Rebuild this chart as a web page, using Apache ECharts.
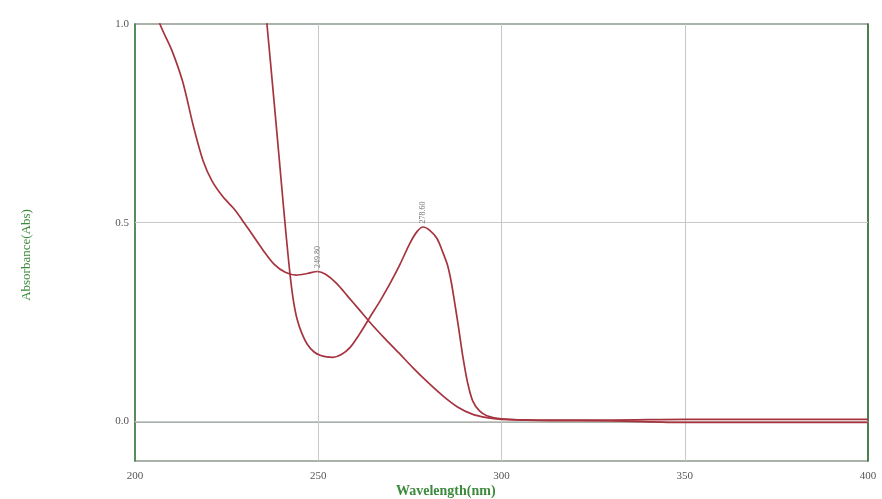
<!DOCTYPE html>
<html>
<head>
<meta charset="utf-8">
<script src="https://cdn.jsdelivr.net/npm/echarts@6/dist/echarts.min.js"></script>
<style>html,body{margin:0;padding:0;background:#fff}#c{width:882px;height:499px}</style>
</head>
<body>
<div id="c"></div>
<script>
// Data
var curveA = [[205,1.06],[206.8,1.0],[210,0.935],[213,0.855],[216,0.74],[218.6,0.655],[221,0.605],[224,0.565],[227,0.535],[229,0.51],[232,0.47],[235,0.43],[238,0.395],[241,0.375],[244,0.368],[247,0.372],[249.8,0.377],[252,0.37],[255,0.347],[258,0.315],[261,0.283],[264,0.25],[268,0.21],[272,0.172],[276,0.133],[280,0.097],[284,0.064],[288,0.036],[292,0.018],[296,0.009],[300,0.005],[310,0.003],[330,0.003],[350,0.005],[380,0.005],[400,0.005]];
var curveB = [[235.5,1.05],[236,1.0],[237.5,0.85],[238.7,0.728],[239.6,0.635],[240.4,0.552],[241.3,0.462],[242.3,0.37],[243.2,0.305],[244.2,0.258],[245.5,0.222],[247,0.194],[248.8,0.175],[250.5,0.166],[252.3,0.162],[254,0.161],[256.3,0.168],[258.7,0.186],[261.3,0.22],[264.1,0.262],[267,0.305],[269.6,0.347],[272.3,0.395],[275,0.448],[277,0.478],[278.6,0.489],[280.5,0.48],[282.4,0.46],[284,0.425],[285.2,0.395],[286.2,0.355],[287.2,0.3],[288.3,0.235],[289.5,0.16],[290.8,0.095],[292.2,0.05],[294,0.026],[296,0.014],[300,0.006],[310,0.002],[330,0.001],[350,-0.003],[400,-0.003]];
var peaksA = [[249.8,0.377,'249.80']];
var peaksB = [[278.6,0.489,'278.60']];
var xTicks = [200,250,300,350,400];
var yTicks = [0.0,0.5,1.0];
var xGrid = [250,300,350];
var yGrid = [0.0,0.5];

var serif = 'Liberation Serif';
var chart = echarts.init(document.getElementById('c'), null, {renderer:'canvas'});
function peakMarks(p){
  return p.map(function(d){return {coord:[d[0],d[1]], value:d[2]};});
}
var gridLines = xGrid.map(function(v){return {xAxis:v};}).concat(yGrid.map(function(v){return {yAxis:v};}));
chart.setOption({
  animation:false,
  grid:{left:135,right:14,top:24,bottom:38,show:true,borderColor:'#8f9a8f',borderWidth:1.5},
  xAxis:{type:'value',min:200,max:400,interval:50,
    axisLine:{show:true,lineStyle:{color:'#8f9a8f',width:1.5}},
    axisTick:{show:false},splitLine:{show:false},
    axisLabel:{color:'#555',fontFamily:serif,fontSize:11,margin:10}},
  yAxis:[{type:'value',min:-0.1,max:1.0,
    axisLine:{show:true,onZero:false,lineStyle:{color:'#3f7f3f',width:1.5}},
    axisTick:{show:false},splitLine:{show:false},
    axisLabel:{color:'#555',fontFamily:serif,fontSize:11,margin:6,customValues:yTicks,
      formatter:function(v){return v.toFixed(1);}}},
    {type:'value',min:-0.1,max:1.0,position:'right',
    axisLine:{show:true,onZero:false,lineStyle:{color:'#2f6f2f',width:1.5}},
    axisTick:{show:false},splitLine:{show:false},axisLabel:{show:false}}],
  graphic:[
    {type:'text',left:396,top:484,style:{text:'Wavelength(nm)',fill:'#3d8a3d',font:'bold 14px "Liberation Serif"'}},
    {type:'text',x:27,y:255,rotation:Math.PI/2,style:{text:'Absorbance(Abs)',fill:'#3d8a3d',font:'13px "Liberation Serif"',align:'center',verticalAlign:'middle'}}
  ],
  series:[
    {type:'line',data:curveA,smooth:0.3,symbol:'none',lineStyle:{color:'#a5343f',width:1.7},z:3,
      markLine:{silent:true,symbol:'none',label:{show:false},lineStyle:{color:'#c8c8c8',width:1,type:'solid'},data:gridLines,z:1},
      markPoint:{symbol:'circle',symbolSize:1,itemStyle:{color:'#888'},data:peakMarks(peaksA),
        label:{show:true,position:'top',rotate:90,align:'left',verticalAlign:'middle',distance:3,fontSize:8,color:'#777',fontFamily:serif,formatter:function(p){return p.value;}}}},
    {type:'line',data:curveB,smooth:0.3,symbol:'none',lineStyle:{color:'#a5343f',width:1.7},z:3,
      markPoint:{symbol:'circle',symbolSize:1,itemStyle:{color:'#888'},data:peakMarks(peaksB),
        label:{show:true,position:'top',rotate:90,align:'left',verticalAlign:'middle',distance:3,fontSize:8,color:'#777',fontFamily:serif,formatter:function(p){return p.value;}}}}
  ]
});
</script>
</body>
</html>
